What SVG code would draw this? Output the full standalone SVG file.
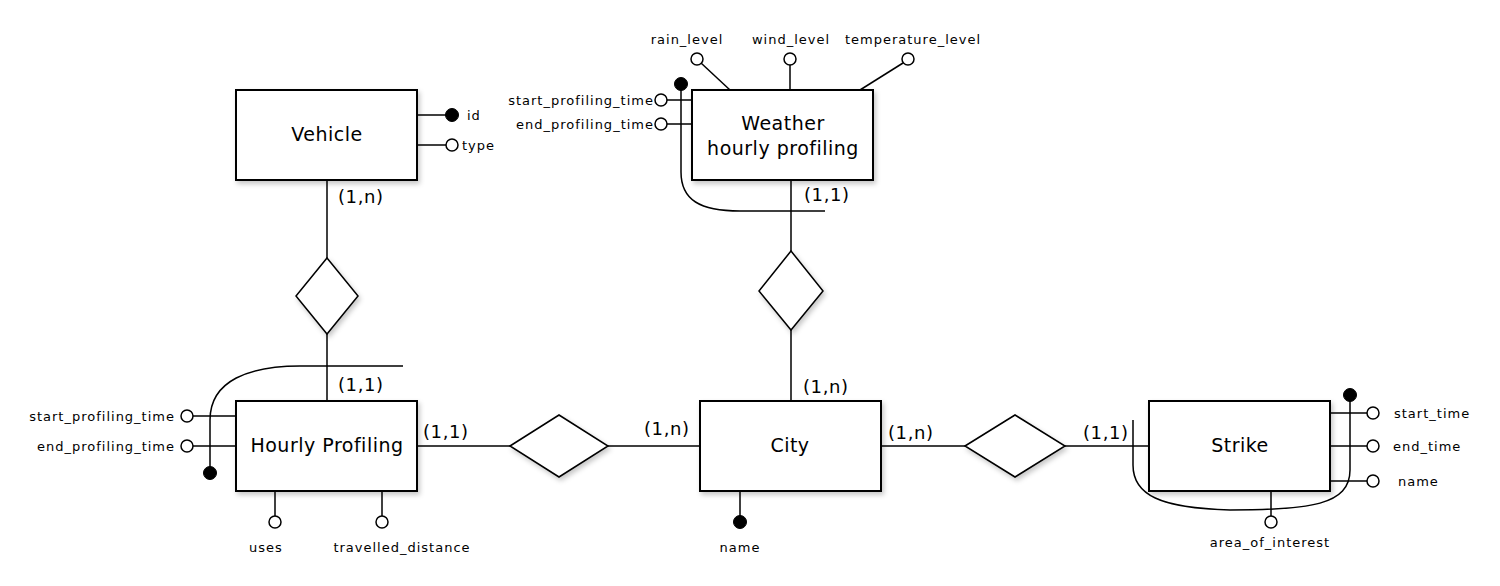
<svg xmlns="http://www.w3.org/2000/svg" width="1500" height="586" viewBox="0 0 1500 586">
<defs>
<filter id="sh" x="-10%" y="-10%" width="130%" height="140%">
<feDropShadow dx="2" dy="3" stdDeviation="2.5" flood-color="#000" flood-opacity="0.22"/>
</filter>
</defs>
<style>
.ent{fill:#fff;stroke:#000;stroke-width:2;filter:url(#sh)}
.rel{fill:#fff;stroke:#000;stroke-width:1.5;filter:url(#sh)}
.ln{fill:none;stroke:#000;stroke-width:1.5}
.oa{fill:#fff;stroke:#000;stroke-width:1.5}
.ka{fill:#000;stroke:#000;stroke-width:1}
.t{font-family:"DejaVu Sans",sans-serif;font-size:19px;letter-spacing:0.5px;text-anchor:middle;fill:#000}
.a{font-family:"DejaVu Sans",sans-serif;font-size:13px;letter-spacing:1px;fill:#000}
.c{font-family:"DejaVu Sans",sans-serif;font-size:18px;letter-spacing:0.6px;fill:#000}
</style>
<rect width="1500" height="586" fill="#fff"/>
<g id="connectors">
<line class="ln" x1="327" y1="180" x2="327" y2="258"/>
<line class="ln" x1="327" y1="334" x2="327" y2="401"/>
<line class="ln" x1="417" y1="446" x2="510" y2="446"/>
<line class="ln" x1="608" y1="446" x2="700" y2="446"/>
<line class="ln" x1="791" y1="180" x2="791" y2="251"/>
<line class="ln" x1="791" y1="330" x2="791" y2="401"/>
<line class="ln" x1="881" y1="446" x2="965" y2="446"/>
<line class="ln" x1="1065" y1="446" x2="1149" y2="446"/>
<text class="c" x="338" y="203">(1,n)</text>
<text class="c" x="338" y="391">(1,1)</text>
<text class="c" x="423" y="438">(1,1)</text>
<text class="c" x="644" y="435">(1,n)</text>
<text class="c" x="804" y="201">(1,1)</text>
<text class="c" x="803" y="393">(1,n)</text>
<text class="c" x="888" y="439">(1,n)</text>
<text class="c" x="1083" y="439">(1,1)</text>
</g>
<g id="rel-vehicle-hourly"><polygon class="rel" points="327,258 358,296 327,334 296,296"/></g>
<g id="rel-hourly-city"><polygon class="rel" points="510,446 559,415 608,446 559,477"/></g>
<g id="rel-weather-city"><polygon class="rel" points="791,251 823,291 791,330 759,291"/></g>
<g id="rel-city-strike"><polygon class="rel" points="965,446 1015,415 1065,446 1015,477"/></g>
<g id="vehicle">
<line class="ln" x1="417" y1="115" x2="446" y2="115"/>
<circle class="ka" cx="452" cy="115" r="6.5"/>
<text class="a" x="467" y="120">id</text>
<line class="ln" x1="417" y1="145" x2="446" y2="145"/>
<circle class="oa" cx="452" cy="145" r="6"/>
<text class="a" x="462" y="150">type</text>
<rect class="ent" x="236" y="90" width="181" height="90"/>
<text class="t" x="327" y="141">Vehicle</text>
</g>
<g id="hourly-profiling">
<path class="ln" d="M210,467 V420 C210,380 250,366 300,366 H403"/>
<circle class="ka" cx="210" cy="473" r="6.5"/>
<line class="ln" x1="193" y1="416" x2="236" y2="416"/>
<circle class="oa" cx="187" cy="416" r="6"/>
<text class="a" x="175" y="421" text-anchor="end">start_profiling_time</text>
<line class="ln" x1="193" y1="446" x2="236" y2="446"/>
<circle class="oa" cx="187" cy="446" r="6"/>
<text class="a" x="175" y="451" text-anchor="end">end_profiling_time</text>
<line class="ln" x1="275" y1="491" x2="275" y2="516"/>
<circle class="oa" cx="275" cy="522" r="6"/>
<text class="a" x="266" y="552" text-anchor="middle">uses</text>
<line class="ln" x1="382" y1="491" x2="382" y2="516"/>
<circle class="oa" cx="382" cy="522" r="6"/>
<text class="a" x="402" y="552" text-anchor="middle">travelled_distance</text>
<rect class="ent" x="236" y="401" width="181" height="90"/>
<text class="t" x="327" y="452">Hourly Profiling</text>
</g>
<g id="weather">
<path class="ln" d="M681,90 V172 C681,200 700,211 740,211 H825"/>
<circle class="ka" cx="681" cy="84" r="6.5"/>
<line class="ln" x1="701" y1="63" x2="730" y2="90"/>
<circle class="oa" cx="697" cy="59" r="6"/>
<text class="a" x="687" y="44" text-anchor="middle">rain_level</text>
<line class="ln" x1="790" y1="65" x2="790" y2="90"/>
<circle class="oa" cx="790" cy="59" r="6"/>
<text class="a" x="791" y="44" text-anchor="middle">wind_level</text>
<line class="ln" x1="903" y1="63" x2="860" y2="90"/>
<circle class="oa" cx="908" cy="59" r="6"/>
<text class="a" x="913" y="44" text-anchor="middle">temperature_level</text>
<line class="ln" x1="667" y1="100" x2="692" y2="100"/>
<circle class="oa" cx="661" cy="100" r="6"/>
<text class="a" x="654" y="105" text-anchor="end">start_profiling_time</text>
<line class="ln" x1="667" y1="124" x2="692" y2="124"/>
<circle class="oa" cx="661" cy="124" r="6"/>
<text class="a" x="654" y="129" text-anchor="end">end_profiling_time</text>
<rect class="ent" x="692" y="90" width="181" height="90"/>
<text class="t" x="783" y="130">Weather</text>
<text class="t" x="783" y="155">hourly profiling</text>
</g>
<g id="city">
<line class="ln" x1="740" y1="491" x2="740" y2="516"/>
<circle class="ka" cx="740" cy="522" r="6.5"/>
<text class="a" x="740" y="552" text-anchor="middle">name</text>
<rect class="ent" x="700" y="401" width="181" height="90"/>
<text class="t" x="790" y="452">City</text>
</g>
<g id="strike">
<path class="ln" d="M1133,420 V465 C1133,495 1160,508 1230,510 C1310,510 1350,505 1350,470 V400"/>
<circle class="ka" cx="1350" cy="395" r="6.5"/>
<line class="ln" x1="1330" y1="413" x2="1367" y2="413"/>
<circle class="oa" cx="1373" cy="413" r="6"/>
<text class="a" x="1394" y="418">start_time</text>
<line class="ln" x1="1330" y1="446" x2="1367" y2="446"/>
<circle class="oa" cx="1373" cy="446" r="6"/>
<text class="a" x="1393" y="451">end_time</text>
<line class="ln" x1="1330" y1="481" x2="1367" y2="481"/>
<circle class="oa" cx="1373" cy="481" r="6"/>
<text class="a" x="1398" y="486">name</text>
<line class="ln" x1="1271" y1="491" x2="1271" y2="516"/>
<circle class="oa" cx="1271" cy="522" r="6"/>
<text class="a" x="1270" y="547" text-anchor="middle">area_of_interest</text>
<rect class="ent" x="1149" y="401" width="181" height="90"/>
<text class="t" x="1240" y="452">Strike</text>
</g>
</svg>
